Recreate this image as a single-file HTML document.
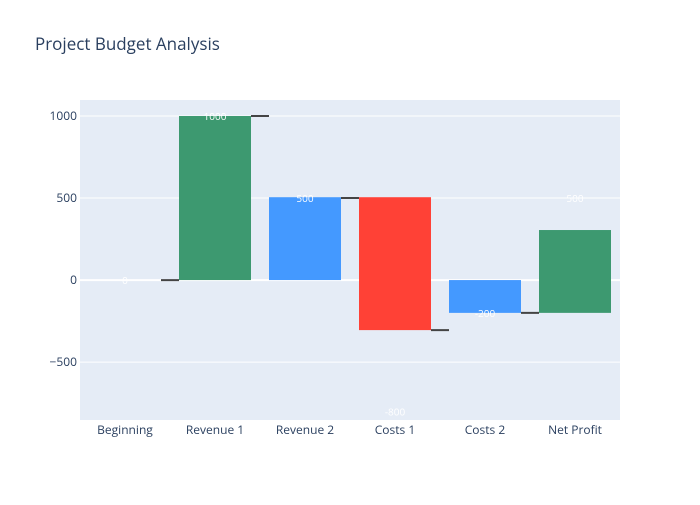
<!DOCTYPE html>
<html><head><meta charset="utf-8"><style>
body{margin:0;background:#fff;font-family:"Liberation Sans",sans-serif}
svg text{font-family:"Open Sans","Liberation Sans",sans-serif}
</style></head><body>
<svg id="c" width="700" height="500">
<rect width="700" height="500" fill="#fff"/>
<text x="35" y="50" font-size="17" fill="#2a3f5f">Project Budget Analysis</text>
<rect x="80" y="100" width="540" height="320" fill="#e5ecf6"/>
<g id="grid"></g><g id="bars"></g><g id="labels"></g>
</svg>
<script>
const categories=["Beginning","Revenue 1","Revenue 2","Costs 1","Costs 2","Net Profit"];
const barBase=[0,0,0,505,0,-200];
const barEnd=[0,1000,505,-305,-200,305];
const barColors=["#3d9970","#3d9970","#4499ff","#ff4136","#4499ff","#3d9970"];
const labelValues=["0","1000","500","-800","-200","500"];
const labelPos=[0,1000,500,-800,-200,500];
const connectorVals=[0,1000,500,-305,-200];
const yTicks=[-500,0,500,1000];
const yMin=-853,yMax=1097.6;
const NS="http://www.w3.org/2000/svg";
const px0=80,pw=540,py0=100,ph=320;
const y=v=>py0+ph*(yMax-v)/(yMax-yMin);
const step=pw/categories.length;
const xc=i=>px0+step*(i+0.5);
const bw=72;
function mk(t,a,p){const e=document.createElementNS(NS,t);for(const k in a)e.setAttribute(k,a[k]);p.appendChild(e);return e;}
const g=document.getElementById('grid'),b=document.getElementById('bars'),l=document.getElementById('labels');
yTicks.forEach(t=>{
 const ln=mk('line',{x1:px0,x2:px0+pw,y1:y(t),y2:y(t),stroke:'#fff','stroke-width':t===0?2:1},g);
 
 
 const tx=mk('text',{x:px0-3,y:y(t)+4,'text-anchor':'end','font-size':12,fill:'#2a3f5f'},g);
 tx.textContent=t<0?'−'+Math.abs(t):String(t);
 
 
});
categories.forEach((c,i)=>{
 const tx=mk('text',{x:xc(i),y:y(yMin)+14,'text-anchor':'middle','font-size':12,fill:'#2a3f5f'},g);
 tx.textContent=c;
 
 
 const top=Math.max(barBase[i],barEnd[i]),bot=Math.min(barBase[i],barEnd[i]);
 const r=mk('rect',{x:xc(i)-bw/2,y:y(top),width:bw,height:Math.max(0,y(bot)-y(top)),fill:barColors[i]},b);
 
 
 const lt=mk('text',{x:xc(i),y:y(labelPos[i])+4,'text-anchor':'middle','font-size':10,fill:'#fff'},l);
 lt.textContent=labelValues[i];
 
 
});
connectorVals.forEach((v,i)=>{
 const ln=mk('line',{x1:xc(i)+bw/2-(i===0?0:0)+(i===0?0:0),x2:xc(i+1)-bw/2,y1:y(v),y2:y(v),stroke:'#444','stroke-width':2},l);
 if(i===0){ln.setAttribute('x1',xc(i)+bw/2-0);}
 
 
});
</script>
</body></html>
